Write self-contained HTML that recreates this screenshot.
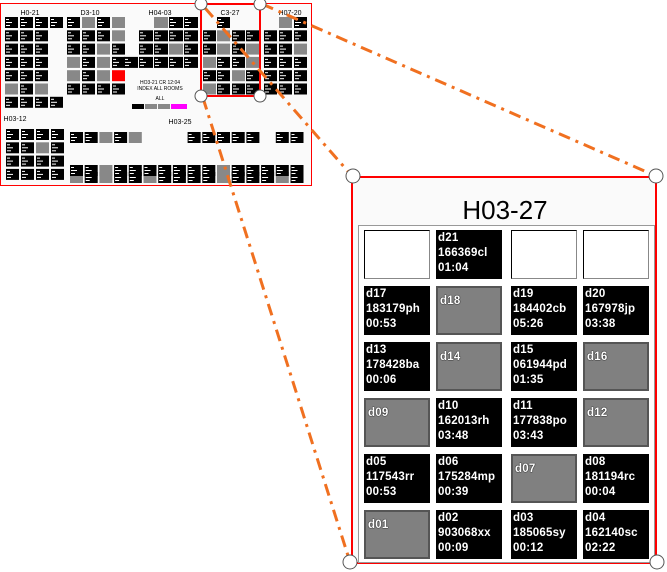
<!DOCTYPE html>
<html><head><meta charset="utf-8"><style>
body{margin:0;width:667px;height:572px;background:#fff;position:relative;overflow:hidden;font-family:"Liberation Sans",sans-serif}
.c{position:absolute;width:66px;height:49px;box-sizing:border-box;color:#fff;font-size:11.5px;line-height:15px;padding:1px 2px;font-weight:bold;letter-spacing:0.2px}
.b{background:#000}
.g{background:#808080;border:2px solid #555;padding-top:6px;color:#fff;text-shadow:0 0 1px #000,0 0 1px #000}
.w{background:#fff;border:1px solid #000;border-right-color:#888;border-bottom-color:#888}
</style></head><body>
<svg id="s" width="667" height="572" style="position:absolute;left:0;top:0">
<rect x="0.5" y="3.5" width="311" height="182" fill="#fafafa" stroke="#f00" stroke-width="1"/>
<g id="th"></g>
<g font-family="Liberation Sans" font-size="7" fill="#000">
<text x="30" y="15" text-anchor="middle">H0-21</text>
<text x="90" y="15" text-anchor="middle">D3-10</text>
<text x="160" y="15" text-anchor="middle">H04-03</text>
<text x="230" y="15" text-anchor="middle">C3-27</text>
<text x="290" y="15" text-anchor="middle">H07-20</text>
<text x="15" y="121" text-anchor="middle">H03-12</text>
<text x="180" y="124" text-anchor="middle">H03-25</text>
<text x="160" y="84" text-anchor="middle" font-size="5">HO3-21 CR 12:04</text>
<text x="160" y="90" text-anchor="middle" font-size="5">INDEX ALL ROOMS</text>
<text x="160" y="100" text-anchor="middle" font-size="5">ALL</text>
</g>
<rect x="132" y="104" width="12" height="5" fill="#000"/><rect x="145" y="104" width="12" height="5" fill="#888"/><rect x="158" y="104" width="12" height="5" fill="#888"/><rect x="171" y="104" width="16" height="5" fill="#f0f"/>
<rect x="352" y="177" width="304" height="386" fill="#fafafa" stroke="#f00" stroke-width="2"/>
<rect x="358.5" y="225.5" width="296" height="337" fill="#fff" stroke="#999"/>
<rect x="201" y="4" width="59" height="92" fill="none" stroke="#f00" stroke-width="2"/>
<g stroke="#f07020" stroke-width="3" stroke-dasharray="12,6,3,6" fill="none">
<line x1="205" y1="8" x2="352" y2="176"/>
<line x1="262" y1="4" x2="656" y2="176"/>
<line x1="203" y1="98" x2="350" y2="562"/>
</g>
<g fill="#fff" stroke="#555" stroke-width="1">
<circle cx="201" cy="4" r="6"/><circle cx="260" cy="4" r="6"/><circle cx="201" cy="96" r="6"/><circle cx="260" cy="96" r="6"/>
<circle cx="353" cy="176" r="7"/><circle cx="656" cy="176" r="7"/><circle cx="350" cy="562" r="7"/><circle cx="657" cy="562" r="7"/>
</g>
<text x="505" y="219" text-anchor="middle" font-family="Liberation Sans" font-size="26" fill="#000">H03-27</text>
</svg>
<div id="g"></div>
<script>
var th=document.getElementById('th'),h='';
function grp(xs,y0,dy,hh,w,rows){rows.forEach(function(r,i){for(var j=0;j<r.length;j++){var ch=r[j];if(ch=='W')continue;var col=ch=='B'?'#000':ch=='G'?'#888':'#f00';var x=xs[j],y=y0+i*dy;h+='<rect x="'+x+'" y="'+y+'" width="'+w+'" height="'+hh+'" fill="'+col+'"/>';if(ch=='B'){h+='<rect x="'+(x+1)+'" y="'+(y+2)+'" width="3" height="1" fill="#fff"/><rect x="'+(x+1)+'" y="'+(y+5)+'" width="6" height="1" fill="#fff"/><rect x="'+(x+1)+'" y="'+(y+8)+'" width="4" height="1" fill="#fff"/>';}}});}
grp([5,20,35,50],17,13.3,11,13,['BBBB','BBBW','BBBW','BBBW','BBBW','GBGW','BBBB']);
grp([67,82,97,112],17,13.3,11,13,['BGBG','BBBG','BBGB','GBGB','GBGR','BBBB']);
grp([124,139,154,169,184],17,13.3,11,14,['WWGBB','WBBBB','WBBGB','BBBBB']);
grp([203,217,232,246],17,13.3,11,13,['WBWW','BGBB','BGBG','GBBG','BBGB','GBBB']);
grp([264,279,294],17,13.3,11,13,['WGB','BBB','BBG','BBB','BBB','BBB']);
grp([6,21,36,51],129,13.3,11,13,['BBBB','BBGB','BBBB','BBBB']);
var xs=[];for(var k=0;k<16;k++)xs.push(70+k*14.7);
grp(xs,132,20,11,13,['BBGBGWWWBBBBBWBB','WWWWWWWWWWWWWWWW','GBGBBGBBBBGBBBGB']);
grp(xs,165,1,11,13,['BBGBBBBBBBGBBBBB']);
th.innerHTML=h;
var X=[364,436,511,583],Y=[230,286,342,398,454,510];
var D=[['w',''],['b','d21<br>166369cl<br>01:04'],['w',''],['w',''],
['b','d17<br>183179ph<br>00:53'],['g','d18'],['b','d19<br>184402cb<br>05:26'],['b','d20<br>167978jp<br>03:38'],
['b','d13<br>178428ba<br>00:06'],['g','d14'],['b','d15<br>061944pd<br>01:35'],['g','d16'],
['g','d09'],['b','d10<br>162013rh<br>03:48'],['b','d11<br>177838po<br>03:43'],['g','d12'],
['b','d05<br>117543rr<br>00:53'],['b','d06<br>175284mp<br>00:39'],['g','d07'],['b','d08<br>181194rc<br>00:04'],
['g','d01'],['b','d02<br>903068xx<br>00:09'],['b','d03<br>185065sy<br>00:12'],['b','d04<br>162140sc<br>02:22']];
var o='';D.forEach(function(d,i){o+='<div class="c '+d[0]+'" style="left:'+X[i%4]+'px;top:'+Y[Math.floor(i/4)]+'px">'+d[1]+'</div>';});
document.getElementById('g').innerHTML=o;
</script>
</body></html>
